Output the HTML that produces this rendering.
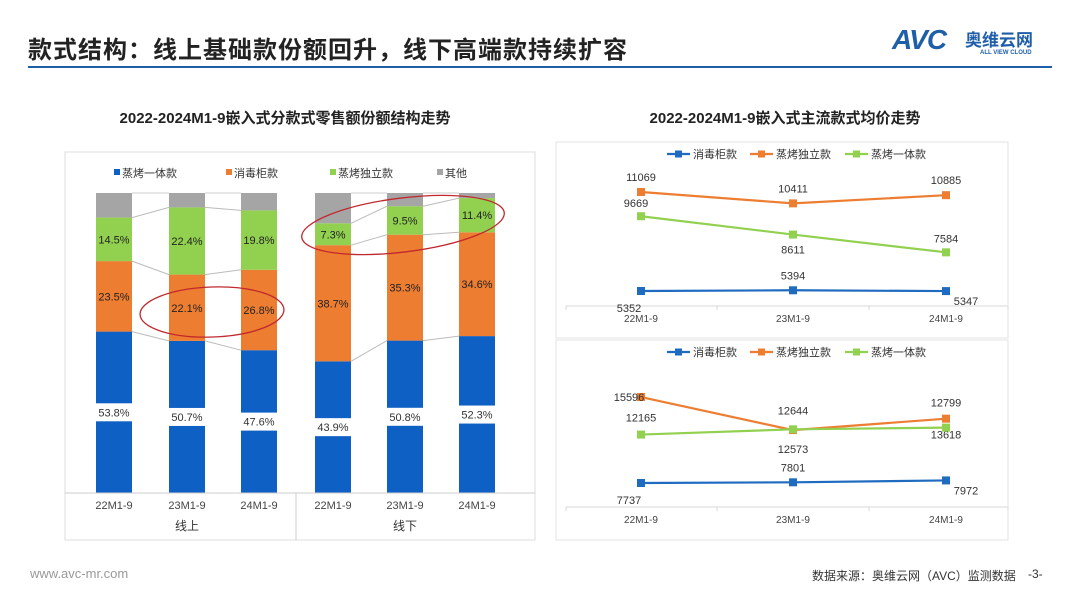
<!DOCTYPE html>
<html><head><meta charset="utf-8"><style>
body{margin:0;width:1080px;height:608px;background:#fff;font-family:"Liberation Sans","Noto Sans CJK SC",sans-serif;overflow:hidden;position:relative}
.abs{position:absolute}
</style></head><body>
<div class="abs" style="left:28px;top:30px;font-size:24px;font-weight:bold;color:#222;letter-spacing:1px">款式结构：线上基础款份额回升，线下高端款持续扩容</div>
<div class="abs" style="left:28px;top:66px;width:1024px;height:2px;background:#1f5fa8"></div>
<div class="abs" style="left:892px;top:24px;color:#1f5fa8;font-weight:bold;font-style:italic;font-size:28px;letter-spacing:-1px">AVC</div>
<div class="abs" style="left:965px;top:26px;color:#1f5fa8;font-weight:bold;font-size:17px">奥维云网</div>
<div class="abs" style="left:980px;top:50px;color:#1f5fa8;font-size:6px;font-weight:bold">ALL VIEW CLOUD</div>
<div class="abs" style="left:60px;width:450px;top:107px;text-align:center;font-size:15px;font-weight:bold;color:#222">2022-2024M1-9嵌入式分款式零售额份额结构走势</div>
<div class="abs" style="left:560px;width:450px;top:107px;text-align:center;font-size:15px;font-weight:bold;color:#222">2022-2024M1-9嵌入式主流款式均价走势</div>
<div class="abs" style="left:30px;top:566px;font-size:13px;color:#999">www.avc-mr.com</div>
<div class="abs" style="left:812px;top:567px;font-size:12px;color:#333">数据来源：奥维云网（AVC）监测数据</div>
<div class="abs" style="left:1028px;top:567px;font-size:12px;color:#333">-3-</div>
<svg class="abs" style="left:0;top:0" width="1080" height="608" id="svg" font-family="Liberation Sans, Noto Sans CJK SC, sans-serif"></svg>
<script>
const cats=['22M1-9','23M1-9','24M1-9'];
const groups=['线上','线下'];
const seriesNames=['蒸烤一体款','消毒柜款','蒸烤独立款','其他'];
const onlineBlue=[53.8,50.7,47.6],onlineOrange=[23.5,22.1,26.8],onlineGreen=[14.5,22.4,19.8];
const offlineBlue=[43.9,50.8,52.3],offlineOrange=[38.7,35.3,34.6],offlineGreen=[7.3,9.5,11.4];
const lineNames=['消毒柜款','蒸烤独立款','蒸烤一体款'];
const topBlue=[5352,5394,5347],topOrange=[11069,10411,10885],topGreen=[9669,8611,7584];
const botBlue=[7737,7801,7972],botOrange=[15596,12573,13618],botGreen=[12165,12644,12799];

const svg=document.getElementById('svg');const NS='http://www.w3.org/2000/svg';
function mk(t,a,txt){const e=document.createElementNS(NS,t);for(const k in a)e.setAttribute(k,a[k]);if(txt!==undefined)e.textContent=txt;svg.appendChild(e);return e;}
const C=['#0f60c4','#ed7d31','#92d050','#a5a5a5'];
let e=mk('rect',{x:65,y:152,width:470,height:388,fill:'none',stroke:'#ddd'});


const yB=v=>493-v*3.0;
const barX=[96,169,241,315,387,459],BW=36;
const data=[[onlineBlue,onlineOrange,onlineGreen],[offlineBlue,offlineOrange,offlineGreen]];
const stacks=[];
for(let g=0;g<2;g++)for(let i=0;i<3;i++){
 const vals=[data[g][0][i],data[g][1][i],data[g][2][i]];
 vals.push(100-vals[0]-vals[1]-vals[2]);
 stacks.push(vals);
}
for(let g=0;g<2;g++)for(let i=0;i<2;i++){
 const a=stacks[g*3+i],b=stacks[g*3+i+1];let ca=0,cb=0;
 for(let s=0;s<3;s++){ca+=a[s];cb+=b[s];
  e=mk('line',{x1:barX[g*3+i]+BW,y1:yB(ca),x2:barX[g*3+i+1],y2:yB(cb),stroke:'#bbb','stroke-width':1});
  
  }
 e=mk('line',{x1:barX[g*3+i]+BW,y1:yB(100),x2:barX[g*3+i+1],y2:yB(100),stroke:'#ccc','stroke-width':1});
 
 
}
stacks.forEach((vals,k)=>{let cum=0;
 vals.forEach((v,s)=>{
  e=mk('rect',{x:barX[k],y:yB(cum+v),width:BW,height:v*3,fill:C[s]});
  
  
  const cy=yB(cum+v/2);
  if(s===0){const r=mk('rect',{x:barX[k]-3,y:cy-9,width:BW+6,height:18,fill:'#fff'});
   
   }
  if(s<3){const t=mk('text',{x:barX[k]+BW/2,y:cy+4,'text-anchor':'middle','font-size':11,fill:s===0?'#333':'#222'},vals[s].toFixed(1)+'%');
   
   }
  cum+=v;});
});
e=mk('line',{x1:65,y1:493,x2:535,y2:493,stroke:'#ccc'});


e=mk('line',{x1:296,y1:493,x2:296,y2:540,stroke:'#ccc'});


barX.forEach((x,k)=>{const t=mk('text',{x:x+BW/2,y:509,'text-anchor':'middle','font-size':11,fill:'#444'},cats[k%3]);
 
 });
groups.forEach((gn,g)=>{const t=mk('text',{x:barX[g*3+1]+BW/2,y:530,'text-anchor':'middle','font-size':12,fill:'#333'},gn);
 
 });
const legX=[114,226,330,437];
seriesNames.forEach((n,s)=>{e=mk('rect',{x:legX[s],y:169,width:6,height:6,fill:C[s]});
 
 
 const t=mk('text',{x:legX[s]+8,y:177,'font-size':11,fill:'#333'},n);
 
 });
e=mk('ellipse',{cx:212,cy:312,rx:72,ry:25,fill:'none',stroke:'#c0282d','stroke-width':1.3,transform:'rotate(-2 212 312)'});


e=mk('ellipse',{cx:403,cy:225,rx:102,ry:27,fill:'none',stroke:'#c0282d','stroke-width':1.3,transform:'rotate(-7 403 225)'});



const LC=['#1f6bc0','#ed7d31','#92d050'];
const lx=[641,793,946];
function panel(top,bottom,axisY,yf,series,labelOff,name){
 e=mk('rect',{x:556,y:top,width:452,height:bottom-top,fill:'none',stroke:'#e3e3e3'});
 
 
 e=mk('line',{x1:566,y1:axisY,x2:1008,y2:axisY,stroke:'#d9d9d9'});
 
 
 [566,717,869,1008].forEach(x=>{const l=mk('line',{x1:x,y1:axisY,x2:x,y2:axisY+4,stroke:'#d9d9d9'});
  
  });
 cats.forEach((c,i)=>{const t=mk('text',{x:lx[i],y:axisY+16,'text-anchor':'middle','font-size':10,fill:'#444'},c);
  
  });
 const ly=top+12;const lgx=[667,750,845];
 lineNames.forEach((n,s)=>{const l=mk('line',{x1:lgx[s],y1:ly,x2:lgx[s]+23,y2:ly,stroke:LC[s],'stroke-width':2.2});
  
  
  const m=mk('rect',{x:lgx[s]+8,y:ly-3.5,width:7,height:7,fill:LC[s]});
  
  
  const t=mk('text',{x:lgx[s]+26,y:ly+4,'font-size':11,fill:'#333'},n);
  
  });
 series.forEach((vals,s)=>{
  const p=mk('polyline',{points:vals.map((v,i)=>lx[i]+','+yf(v)).join(' '),fill:'none',stroke:LC[s],'stroke-width':2.2});
  
  
  vals.forEach((v,i)=>{const m=mk('rect',{x:lx[i]-4,y:yf(v)-4,width:8,height:8,fill:LC[s]});
   
   
   const o=labelOff[s][i];
   const t=mk('text',{x:lx[i]+o[0],y:yf(v)+o[1],'text-anchor':'middle','font-size':11,fill:'#333'},String(v));
   
   });
 });
}
const yT=v=>291-(v-5352)*0.01732;
panel(142,338,306,yT,[topBlue,topOrange,topGreen],
 [[[-12,21],[0,-11],[20,14]],[[0,-11],[0,-11],[0,-11]],[[-5,-9],[0,19],[0,-10]]],'top-panel');
const yL=v=>483-(v-7737)*0.01094;
panel(340,540,507,yL,[botBlue,botOrange,botGreen],
 [[[-12,21],[0,-11],[20,14]],[[-12,4],[0,23],[0,20]],[[0,-13],[0,-15],[0,-21]]],'bottom-panel');
</script>
</body></html>
